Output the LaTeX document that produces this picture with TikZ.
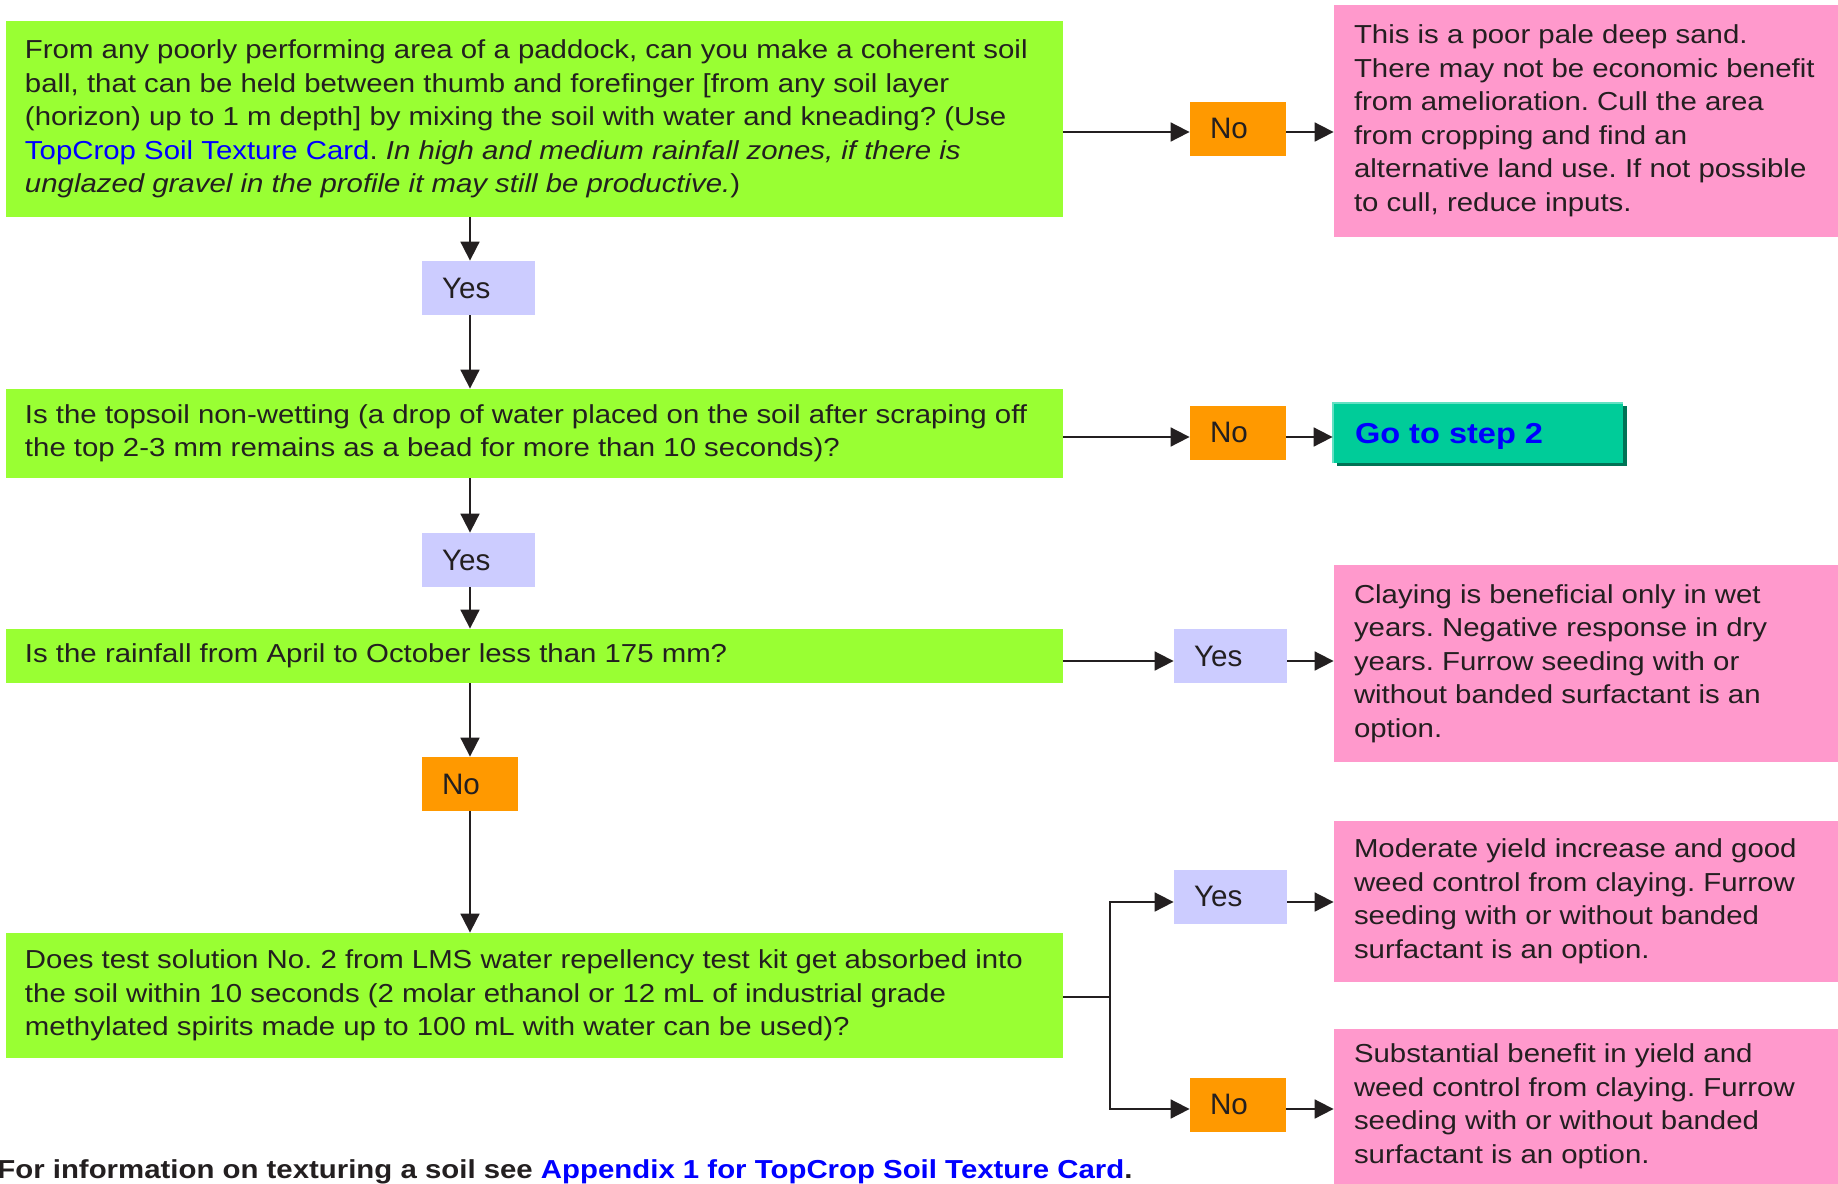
\documentclass[tikz,border=0pt]{standalone}
\usepackage{fontspec}
\setmainfont{Liberation Sans}[FakeStretch=1.13]
\newfontfamily\ynfont{Liberation Sans}
\usetikzlibrary{arrows.meta,calc,shadows}
\definecolor{gfill}{RGB}{153,255,51}
\definecolor{pfill}{RGB}{255,153,204}
\definecolor{ofill}{RGB}{255,153,0}
\definecolor{lfill}{RGB}{204,204,255}
\definecolor{tfill}{RGB}{0,204,153}
\definecolor{tshadow}{RGB}{0,115,85}
\definecolor{ttop}{RGB}{100,225,195}
\definecolor{ink}{RGB}{35,31,32}
\definecolor{linkblue}{RGB}{0,0,255}
\frenchspacing
\begin{document}
\begin{tikzpicture}[x=0.5pt,y=-0.5pt,
  greenbox/.style={fill=gfill, minimum width=528.5pt, inner sep=0pt},
  pinkbox/.style={fill=pfill, minimum width=252pt, inner sep=0pt},
  nobox/.style={fill=ofill, minimum width=48pt, minimum height=27pt, inner sep=0pt},
  yesbox/.style={fill=lfill, minimum width=56.5pt, minimum height=27pt, inner sep=0pt},
  bodytxt/.style={inner sep=0pt, align=left, text=ink, font=\frenchspacing\fontsize{13}{16.75}\selectfont, anchor=west},
  yntxt/.style={inner sep=0pt, text=ink, font=\ynfont\fontsize{14.8}{17}\selectfont, anchor=west},
  conn/.style={draw=ink, line width=0.9pt, -{Triangle[length=9.5pt,width=9.5pt]}},
  plainline/.style={draw=ink, line width=0.9pt}
]
\useasboundingbox (0,0) rectangle (1838,1184);

% helper coordinates
\coordinate (col) at (470,0);
\coordinate (r1) at (0,132);
\coordinate (r2) at (0,437);
\coordinate (r3) at (0,661);
\coordinate (r4) at (0,997);
\coordinate (r4a) at (0,902);
\coordinate (r4b) at (0,1109);
\coordinate (bx) at (1110,0);

% green question boxes
\node[greenbox, minimum height=98pt] (q1) at (534.5,119) {};
\node[greenbox, minimum height=44.5pt] (q2) at (534.5,433.5) {};
\node[greenbox, minimum height=27pt] (q3) at (534.5,656) {};
\node[greenbox, minimum height=62.5pt] (q4) at (534.5,995.5) {};

\node[bodytxt] (tq1) at ([xshift=9.5pt]q1.west) {From any poorly performing area of a paddock, can you make a coherent soil\\
ball, that can be held between thumb and forefinger [from any soil layer\\
(horizon) up to 1 m depth] by mixing the soil with water and kneading? (Use\\
{\color{linkblue}TopCrop Soil Texture Card}. \textit{In high and medium rainfall zones, if there is}\\
\textit{unglazed gravel in the profile it may still be productive.})};
\node[bodytxt] (tq2) at ([xshift=9.5pt]q2.west) {Is the topsoil non-wetting (a drop of water placed on the soil after scraping off\\
the top 2-3 mm remains as a bead for more than 10 seconds)?};
\node[bodytxt] (tq3) at ([xshift=9.5pt]q3.west) {Is the rainfall from April to October less than 175 mm?};
\node[bodytxt] (tq4) at ([xshift=9.5pt]q4.west) {Does test solution No. 2 from LMS water repellency test kit get absorbed into\\
the soil within 10 seconds (2 molar ethanol or 12 mL of industrial grade\\
methylated spirits made up to 100 mL with water can be used)?};

% yes / no boxes
\node[yesbox] (y1) at (478.5,288) {};
\node[yesbox] (y2) at (478.5,560) {};
\node[nobox] (n3) at (470,784) {};
\node[nobox] (n1) at (1238,128.5) {};
\node[nobox] (n2) at (1238,432.5) {};
\node[yesbox] (y3) at (1230.5,656) {};
\node[yesbox] (y4) at (1230.5,896.5) {};
\node[nobox] (n4) at (1238,1104.5) {};

\node[yntxt] (ty1) at ([xshift=10pt]y1.west) {Yes};
\node[yntxt] (ty2) at ([xshift=10pt]y2.west) {Yes};
\node[yntxt] (tn3) at ([xshift=10pt]n3.west) {No};
\node[yntxt] (tn1) at ([xshift=10pt]n1.west) {No};
\node[yntxt] (tn2) at ([xshift=10pt]n2.west) {No};
\node[yntxt] (ty3) at ([xshift=10pt]y3.west) {Yes};
\node[yntxt] (ty4) at ([xshift=10pt]y4.west) {Yes};
\node[yntxt] (tn4) at ([xshift=10pt]n4.west) {No};

% pink outcome boxes
\node[pinkbox, minimum height=116pt] (p1) at (1586,121) {};
\node[pinkbox, minimum height=98.5pt] (p2) at (1586,663.5) {};
\node[pinkbox, minimum height=80.5pt] (p3) at (1586,901.5) {};
\node[pinkbox, minimum height=77.5pt] (p4) at (1586,1106.5) {};

\node[bodytxt] (tp1) at ([xshift=10pt]p1.west) {This is a poor pale deep sand.\\
There may not be economic benefit\\
from amelioration. Cull the area\\
from cropping and find an\\
alternative land use. If not possible\\
to cull, reduce inputs.};
\node[bodytxt] (tp2) at ([xshift=10pt]p2.west) {Claying is beneficial only in wet\\
years. Negative response in dry\\
years. Furrow seeding with or\\
without banded surfactant is an\\
option.};
\node[bodytxt] (tp3) at ([xshift=10pt]p3.west) {Moderate yield increase and good\\
weed control from claying. Furrow\\
seeding with or without banded\\
surfactant is an option.};
\node[bodytxt] (tp4) at ([xshift=10pt]p4.west) {Substantial benefit in yield and\\
weed control from claying. Furrow\\
seeding with or without banded\\
surfactant is an option.};

% go to step 2
\node[fill=tfill, minimum width=145pt, minimum height=30pt, inner sep=0pt,
  drop shadow={shadow xshift=2pt, shadow yshift=-1.6pt, fill=tshadow, opacity=1}] (go) at (1478,433) {};
\draw[ttop, line width=1.1pt] (go.south west) -- (go.north west) -- (go.north east);
\node[inner sep=0pt, anchor=base west, text=linkblue, font=\bfseries\fontsize{14.4}{17}\selectfont] (tgo) at ([xshift=11pt,yshift=-5pt]go.west) {Go to step 2};

% vertical connectors
\draw[conn] (q1.south -| col) -- (y1.north -| col);
\draw[conn] (y1.south -| col) -- (q2.north -| col);
\draw[conn] (q2.south -| col) -- (y2.north -| col);
\draw[conn] (y2.south -| col) -- (q3.north -| col);
\draw[conn] (q3.south -| col) -- (n3.north -| col);
\draw[conn] (n3.south -| col) -- (q4.north -| col);

% horizontal connectors
\draw[conn] (q1.east |- r1) -- (n1.west |- r1);
\draw[conn] (n1.east |- r1) -- (p1.west |- r1);
\draw[conn] (q2.east |- r2) -- (n2.west |- r2);
\draw[conn] (n2.east |- r2) -- (go.west |- r2);
\draw[conn] (q3.east |- r3) -- (y3.west |- r3);
\draw[conn] (y3.east |- r3) -- (p2.west |- r3);
\draw[plainline] (q4.east |- r4) -- (bx |- r4);
\draw[conn] (bx |- r4) |- (y4.west |- r4a);
\draw[conn] (bx |- r4) |- (n4.west |- r4b);
\draw[conn] (y4.east |- r4a) -- (p3.west |- r4a);
\draw[conn] (n4.east |- r4b) -- (p4.west |- r4b);

% footer
\node[inner sep=0pt, anchor=base west, text=ink, font=\bfseries\fontsize{13}{16}\selectfont] (foot) at (-3,1178) {For information on texturing a soil see {\color{linkblue}Appendix 1 for TopCrop Soil Texture Card}.};
\end{tikzpicture}
\end{document}
